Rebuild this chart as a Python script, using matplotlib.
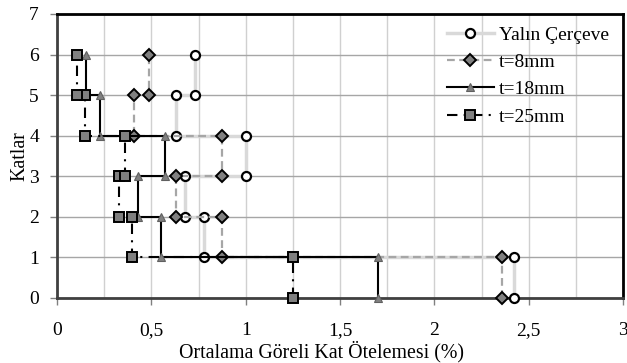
import matplotlib
matplotlib.use("Agg")
import matplotlib.pyplot as plt
import numpy as np

# Data: average inter-story drift (%) per story (stories 1..6)
stories = [1, 2, 3, 4, 5, 6]
yalin = [2.42, 0.78, 0.68, 1.00, 0.63, 0.73]
t8 = [2.36, 0.875, 0.63, 0.875, 0.41, 0.485]
t18 = [1.70, 0.55, 0.43, 0.57, 0.23, 0.155]
t25 = [1.25, 0.40, 0.33, 0.36, 0.15, 0.105]
labels = ["Yalın Çerçeve", "t=8mm", "t=18mm", "t=25mm"]
xticks = [0, 0.5, 1, 1.5, 2, 2.5, 3]
xticklabels = ["0", "0,5", "1", "1,5", "2", "2,5", "3"]
yticks = [0, 1, 2, 3, 4, 5, 6, 7]


def step_points(drifts):
    xs, ys = [], []
    for s, d in zip(stories, drifts):
        xs += [d, d]
        ys += [s - 1, s]
    return xs, ys


plt.rcParams['font.family'] = ['Liberation Serif', 'DejaVu Serif']
FS_TICK = 14
FS_LAB = 14.3
FS_LEG = 14

fig = plt.figure(figsize=(6.27, 3.63), dpi=100)
ax = fig.add_axes([57 / 627, 1 - 298 / 363, 566 / 627, 284 / 363])

styles = [
    dict(color='#d9d9d9', lw=2.5, ls='-', marker='o', ms=6.5, mfc='white',
         mec='black', mew=1.6),
    dict(color='#a6a6a6', lw=1.6, ls=(0, (3.5, 2)), marker='D', ms=6.5,
         mfc='#808080', mec='black', mew=1.4),
    dict(color='black', lw=1.5, ls='-', marker='^', ms=5.5,
         mfc='#808080', mec='#606060', mew=0.8),
    dict(color='black', lw=1.5, ls=(0, (5, 3, 1, 3)), marker='s', ms=7,
         mfc='#808080', mec='black', mew=1.4),
]

for i, (data, lab, st) in enumerate(zip([yalin, t8, t18, t25], labels, styles)):
    xs, ys = step_points(data)
    ax.plot(xs, ys, label=lab, zorder=3 + i, clip_on=False, **st)

ax.set_xlim(0, 3)
ax.set_ylim(0, 7)
ax.set_xticks(xticks)
ax.set_xticklabels(xticklabels)
ax.set_yticks(yticks)
ax.set_xticks(np.arange(0, 3.01, 0.25), minor=True)
ax.tick_params(axis='both', which='major', labelsize=FS_TICK, direction='out',
               length=5, width=1, color='#808080')
ax.tick_params(axis='x', which='major', pad=12)
ax.tick_params(axis='y', which='major', pad=8)
ax.tick_params(axis='x', which='minor', length=0)

ax.grid(True, axis='x', which='both', color='#d0d0d0', lw=1, zorder=0)
ax.grid(True, axis='y', which='major', color='#a6a6a6', lw=1, zorder=0)
ax.set_axisbelow(True)

for side in ['top', 'right']:
    ax.spines[side].set_color('black')
    ax.spines[side].set_linewidth(2)
for side in ['left', 'bottom']:
    ax.spines[side].set_color('#404040')
    ax.spines[side].set_linewidth(2)

ax.set_xlabel("Ortalama Göreli Kat Ötelemesi (%)", fontsize=FS_LAB)
ax.xaxis.set_label_coords((321.5 - 57) / 566, -(352 - 298) / 284)
ax.xaxis.label.set_va('center')
ax.set_ylabel("Katlar", fontsize=FS_LAB)
ax.yaxis.set_label_coords(-(57 - 20) / 566, 0.5)
ax.yaxis.label.set_va('center')

leg = ax.legend(loc='upper left', bbox_to_anchor=((447 - 57) / 566, (298 - 26) / 284),
                frameon=False, fontsize=FS_LEG, borderpad=0, handlelength=2.4,
                handletextpad=0.28, labelspacing=0.5, borderaxespad=0)
leg.set_zorder(10)

fig.savefig("out.png", dpi=100)
